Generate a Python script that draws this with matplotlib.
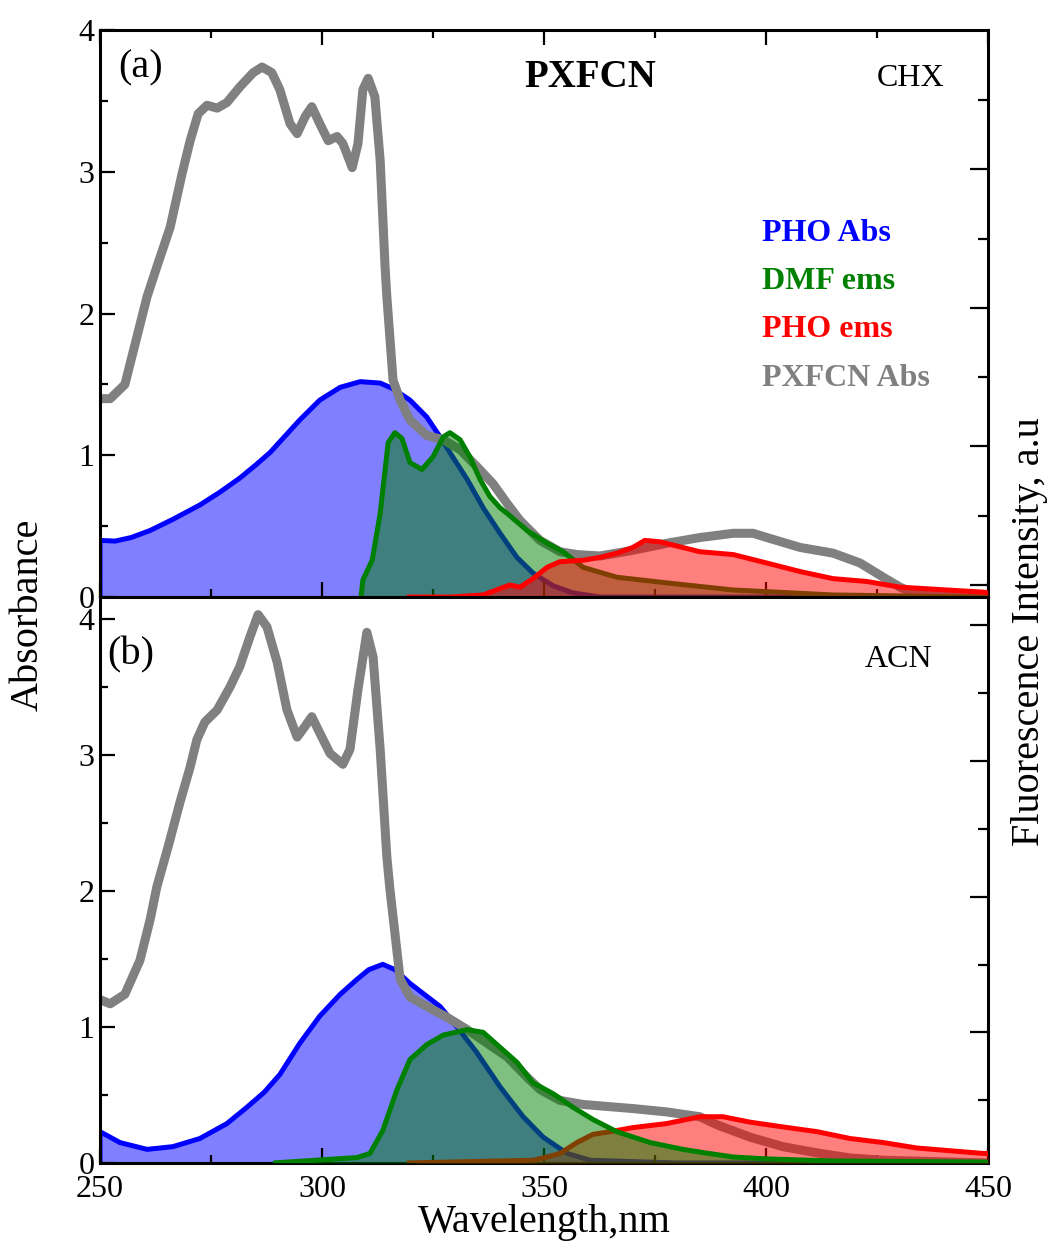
import matplotlib
matplotlib.use('Agg')
import matplotlib.pyplot as plt
from matplotlib.ticker import MultipleLocator, NullFormatter

plt.rcParams['font.family'] = ['Liberation Serif', 'DejaVu Serif']

# ---- panel (a): CHX ----
a_pxfcn_x = [250, 252.3, 255.6, 260.6, 262.8, 265.8, 268.5, 270.3, 272.1, 274.1, 276.4, 278.6,
             281.5, 284.5, 286.5, 288.7, 290.5, 292.8, 294.4, 296.2, 297.7, 299.5, 301.4, 303.4,
             304.7, 306.8, 308.1, 309.2, 310.4, 311.9, 313.1, 314.2, 314.6, 316.0, 317.6, 319.8,
             323.6, 327.3, 331.1, 334.9, 338.5, 341.7, 344.6, 349.1, 353.6, 357.4, 362.6, 370.0,
             377.7, 385.1, 392.6, 397.1, 400.2, 407.7, 415.1, 421.2, 426.4, 430.2, 433.1, 440, 450]
a_pxfcn_y = [1.40, 1.40, 1.50, 2.12, 2.33, 2.61, 2.99, 3.22, 3.41, 3.47, 3.45, 3.49,
             3.60, 3.70, 3.74, 3.70, 3.58, 3.34, 3.27, 3.39, 3.46, 3.34, 3.22, 3.25,
             3.20, 3.03, 3.20, 3.58, 3.66, 3.53, 3.08, 2.33, 2.12, 1.53, 1.39, 1.25,
             1.14, 1.11, 1.04, 0.92, 0.80, 0.66, 0.54, 0.40, 0.32, 0.30, 0.29, 0.33,
             0.38, 0.42, 0.45, 0.45, 0.42, 0.35, 0.31, 0.24, 0.14, 0.07, 0.03, 0.01, 0.0]

a_pho_abs_x = [250, 250, 253.4, 257.0, 261.3, 266.5, 272.5, 277.0, 281.5, 285.0, 288.3, 291.5,
               295.0, 299.5, 304.1, 308.6, 313.1, 316.0, 319.8, 323.6, 326.6, 328.8, 332.7,
               336.3, 340.1, 343.9, 347.5, 352.0, 356.5, 362.6, 450]
a_pho_abs_y = [0.0, 0.40, 0.395, 0.42, 0.47, 0.55, 0.65, 0.74, 0.84, 0.93, 1.02, 1.13,
               1.25, 1.39, 1.48, 1.52, 1.51, 1.47, 1.39, 1.27, 1.13, 1.02, 0.83,
               0.63, 0.45, 0.28, 0.17, 0.08, 0.03, 0.0, 0.0]

a_dmf_x = [308.8, 309.2, 311.3, 313.1, 314.9, 316.4, 318.0, 319.8, 322.5, 325.0, 327.3, 328.8,
           331.1, 333.3, 335.6, 337.8, 340.1, 341.7, 346.2, 350.7, 354.3, 358.8, 366.4, 377.7,
           392.6, 415.1, 448.9, 450]
a_dmf_y = [0.0, 0.12, 0.26, 0.59, 1.09, 1.16, 1.12, 0.95, 0.90, 0.99, 1.13, 1.16,
           1.11, 0.99, 0.83, 0.71, 0.63, 0.59, 0.47, 0.38, 0.32, 0.21, 0.14, 0.10,
           0.05, 0.015, 0.0, 0.0]

a_pho_ems_x = [319.1, 328.8, 336.3, 340.1, 342.3, 344.6, 347.5, 350.7, 353.6, 358.8, 362.6,
               366.4, 370.0, 372.7, 376.1, 385.1, 392.6, 400.2, 407.7, 415.1, 422.7, 430.2,
               437.6, 448.9, 450]
a_pho_ems_y = [0.0, 0.0, 0.015, 0.06, 0.085, 0.07, 0.13, 0.21, 0.25, 0.26, 0.28,
               0.31, 0.35, 0.40, 0.39, 0.32, 0.30, 0.24, 0.18, 0.13, 0.11, 0.07,
               0.056, 0.035, 0.03]

# ---- panel (b): ACN ----
b_pxfcn_x = [250, 252.3, 255.6, 259.0, 261.3, 262.8, 265.3, 268.0, 270.3, 271.8, 273.6, 276.4,
             279.3, 281.5, 283.8, 285.6, 287.6, 289.9, 292.1, 294.4, 296.2, 297.7, 299.5, 301.8,
             304.7, 306.3, 308.1, 310.1, 311.5, 313.1, 314.6, 315.3, 317.6, 319.8, 323.6, 328.2,
             332.7, 336.3, 341.7, 346.2, 349.1, 353.6, 358.8, 370.0, 377.7, 385.1, 389.0, 396.4,
             403.8, 411.5, 418.9, 426.4, 450]
b_pxfcn_y = [1.20, 1.17, 1.24, 1.49, 1.79, 2.03, 2.32, 2.65, 2.91, 3.11, 3.24, 3.33,
             3.50, 3.65, 3.87, 4.03, 3.94, 3.68, 3.33, 3.13, 3.21, 3.28, 3.16, 3.01,
             2.93, 3.04, 3.48, 3.90, 3.72, 3.04, 2.25, 2.01, 1.35, 1.22, 1.15, 1.07,
             0.98, 0.90, 0.78, 0.63, 0.54, 0.46, 0.43, 0.40, 0.375, 0.34, 0.28, 0.19,
             0.12, 0.074, 0.037, 0.02, 0.0]

b_pho_abs_x = [250, 250, 254.5, 260.6, 266.4, 272.5, 278.6, 283.1, 287.0, 290.5, 295.0, 299.5,
               304.1, 307.9, 310.5, 313.7, 316.5, 319.8, 326.6, 330.4, 334.9, 340.1, 345.3,
               349.8, 355.2, 360.4, 380, 450]
b_pho_abs_y = [0.0, 0.23, 0.15, 0.10, 0.12, 0.18, 0.29, 0.41, 0.52, 0.65, 0.88, 1.08,
               1.24, 1.35, 1.42, 1.46, 1.42, 1.32, 1.15, 1.00, 0.81, 0.56, 0.34,
               0.19, 0.07, 0.02, 0.0, 0.0]

b_dmf_x = [289.0, 307.9, 310.8, 313.7, 316.9, 319.8, 323.6, 327.3, 332.7, 336.3, 340.1, 343.9,
           347.5, 352.0, 356.5, 361.0, 366.4, 373.9, 381.3, 385.1, 392.6, 400.2, 415.1, 448.9, 450]
b_dmf_y = [0.0, 0.04, 0.07, 0.24, 0.54, 0.76, 0.87, 0.94, 0.98, 0.96, 0.85, 0.74,
           0.59, 0.51, 0.41, 0.32, 0.23, 0.15, 0.10, 0.08, 0.044, 0.03, 0.015, 0.007, 0.007]

b_pho_ems_x = [319.1, 347.5, 350.2, 353.6, 357.4, 361.0, 364.9, 370.0, 377.7, 385.1, 390.3,
               396.4, 403.8, 411.5, 418.9, 426.4, 434.0, 441.4, 448.9, 450]
b_pho_ems_y = [0.0, 0.02, 0.04, 0.07, 0.15, 0.21, 0.23, 0.26, 0.29, 0.34, 0.34,
               0.30, 0.265, 0.23, 0.18, 0.15, 0.11, 0.09, 0.07, 0.07]

legend_labels = ['PHO Abs', 'DMF ems', 'PHO ems', 'PXFCN Abs']
legend_colors = ['blue', 'green', 'red', 'gray']


def curve(ax, x, y, color, z, fill=True, lw=3.6):
    if fill:
        ax.fill_between(x, 0, y, color=color, alpha=0.5, lw=0, zorder=z)
    ax.plot(x, y, color=color, lw=lw, zorder=z + 0.5,
            solid_capstyle='butt', solid_joinstyle='round')


def style(ax, ylim, top_ticks, right_long, right_short):
    ax.set_xlim(250, 450)
    ax.set_ylim(*ylim)
    ax.xaxis.set_major_locator(MultipleLocator(50))
    ax.xaxis.set_minor_locator(MultipleLocator(25))
    ax.yaxis.set_major_locator(MultipleLocator(1))
    ax.yaxis.set_minor_locator(MultipleLocator(0.5))
    ax.tick_params(which='major', direction='in', length=11, width=1.6, labelsize=23,
                   top=top_ticks, right=False, pad=4)
    ax.tick_params(which='minor', direction='in', length=6, width=1.6,
                   top=top_ticks, right=False)
    ax.tick_params(axis='x', which='major', pad=9)
    for s in ax.spines.values():
        s.set_linewidth(2.2)
    # fluorescence axis on the right, no labels
    ax2 = ax.twinx()
    ax2.set_ylim(0, 1)
    ax2.set_yticks(right_long)
    ax2.set_yticks(right_short, minor=True)
    ax2.yaxis.set_major_formatter(NullFormatter())
    ax2.tick_params(which='major', direction='in', length=13, width=1.6)
    ax2.tick_params(which='minor', direction='in', length=7, width=1.6)
    for s in ax2.spines.values():
        s.set_visible(False)
    return ax2


fig = plt.figure(figsize=(10.55, 12.57), dpi=100)
ax_a = fig.add_axes([0.0948, 0.525, 0.8417, 0.451])
ax_b = fig.add_axes([0.0948, 0.0748, 0.8417, 0.4503])

# panel (a)
curve(ax_a, a_pho_abs_x, a_pho_abs_y, 'blue', 1)
curve(ax_a, a_pxfcn_x, a_pxfcn_y, 'gray', 2, fill=False, lw=6.5)
curve(ax_a, a_dmf_x, a_dmf_y, 'green', 3)
curve(ax_a, a_pho_ems_x, a_pho_ems_y, 'red', 4)
style(ax_a, (0, 4), True, [0.755, 0.510, 0.266, 0.021], [0.877, 0.632, 0.388, 0.143])
ax_a.tick_params(axis='x', labelbottom=False)

# panel (b)
curve(ax_b, b_pho_abs_x, b_pho_abs_y, 'blue', 1)
curve(ax_b, b_pxfcn_x, b_pxfcn_y, 'gray', 2, fill=False, lw=6.5)
curve(ax_b, b_pho_ems_x, b_pho_ems_y, 'red', 3)
curve(ax_b, b_dmf_x, b_dmf_y, 'green', 4)
style(ax_b, (0, 4.16), False, [0.951, 0.710, 0.470, 0.231], [0.830, 0.590, 0.350, 0.111])
ax_b.set_xlabel('Wavelength,nm', fontsize=29, labelpad=0)

ax_a.text(0.02, 0.933, '(a)', transform=ax_a.transAxes, fontsize=29, va='center')
ax_a.text(0.552, 0.917, 'PXFCN', transform=ax_a.transAxes, fontsize=28,
          fontweight='bold', ha='center', va='center')
ax_a.text(0.913, 0.915, 'CHX', transform=ax_a.transAxes, fontsize=23, ha='center', va='center')
ax_b.text(0.008, 0.898, '(b)', transform=ax_b.transAxes, fontsize=29, va='center')
ax_b.text(0.899, 0.889, 'ACN', transform=ax_b.transAxes, fontsize=23, ha='center', va='center')

for i, (lab, col) in enumerate(zip(legend_labels, legend_colors)):
    ax_a.text(0.745, 0.642 - i * 0.0853, lab, transform=ax_a.transAxes, color=col,
              fontsize=23, fontweight='bold', va='center', zorder=10)

fig.text(0.027, 1 - 615 / 1257, 'Absorbance', rotation=90, fontsize=29, ha='center', va='center')
fig.text(0.976, 1 - 632 / 1257, 'Fluorescence Intensity, a.u', rotation=90, fontsize=29,
         ha='center', va='center')

fig.savefig('out.png', dpi=100)
